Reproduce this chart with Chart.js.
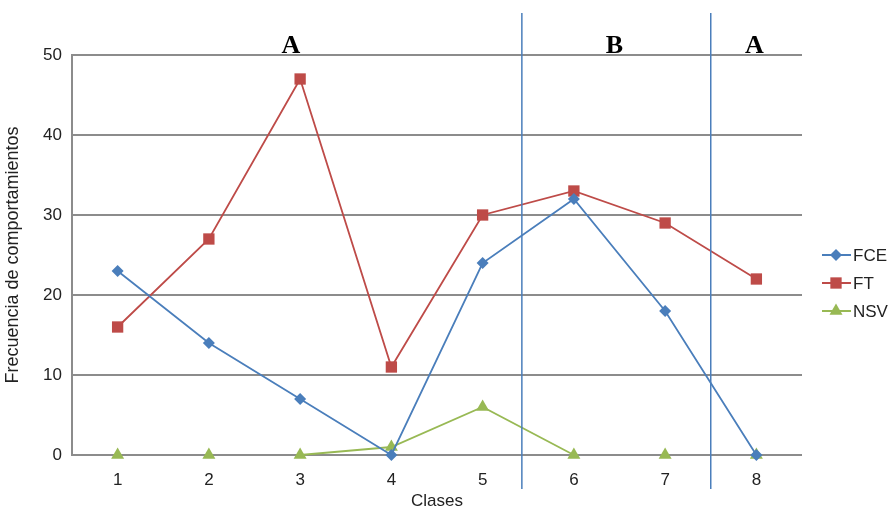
<!DOCTYPE html>
<html>
<head>
<meta charset="utf-8">
<script src="https://cdn.jsdelivr.net/npm/chart.js@4"></script>
<style>
  html, body { margin: 0; padding: 0; background: #fff; }
  #wrap { width: 891px; height: 512px; position: relative; }
</style>
</head>
<body>
<div id="wrap"><canvas id="chart"></canvas></div>
<script>
// Data
const clases = ["1", "2", "3", "4", "5", "6", "7", "8"];
const fce = [23, 14, 7, 0, 24, 32, 18, 0];
const ft = [16, 27, 47, 11, 30, 33, 29, 22];
const nsv = [0, 0, 0, 1, 6, 0, 0, 0];
const phases = ["A", "B", "A"];
// phase changes, in class units (between 5|6 and 7|8)
const phaseBreaks = [5.43, 7.5];

const colors = {
  blue: "#4a7ebb",
  red: "#be4b48",
  green: "#98b954",
  grid: "#8c8c8c",
  text: "#222222",
};

const tickFont = { family: "'Liberation Sans', Arial, sans-serif", size: 17 };

// hide segments lying flat on the zero axis (covered by the axis line)
const hideZeroRun = (ctx) =>
  ctx.p0.parsed.y === 0 && ctx.p1.parsed.y === 0 ? "rgba(0,0,0,0)" : undefined;

// Phase lines and labels
const phasePlugin = {
  id: "phases",
  afterDatasetsDraw(chart) {
    const { ctx, chartArea, scales } = chart;
    const xs = phaseBreaks.map((c) => {
      const lo = Math.floor(c);
      const f = c - lo;
      const a = scales.x.getPixelForValue(lo - 1);
      const b = scales.x.getPixelForValue(lo);
      return a + (b - a) * f;
    });
    ctx.save();
    ctx.strokeStyle = colors.blue;
    ctx.lineWidth = 1.5;
    xs.forEach((x) => {
      ctx.beginPath();
      ctx.moveTo(x, 13);
      ctx.lineTo(x, 489);
      ctx.stroke();
    });
    const edges = [chartArea.left - 8, ...xs, chartArea.right];
    ctx.fillStyle = "#000";
    ctx.font = "bold 26px 'Liberation Serif', 'Times New Roman', serif";
    ctx.textAlign = "center";
    ctx.textBaseline = "alphabetic";
    phases.forEach((p, i) => {
      ctx.fillText(p, (edges[i] + edges[i + 1]) / 2 - 2, 53);
    });
    ctx.restore();
  },
};

// Excel-style legend: line with marker
const legendPlugin = {
  id: "sideLegend",
  afterDraw(chart) {
    const { ctx } = chart;
    ctx.save();
    chart.data.datasets.forEach((ds, i) => {
      const y = 255 + i * 28;
      ctx.strokeStyle = ds.borderColor;
      ctx.lineWidth = 2;
      ctx.beginPath();
      ctx.moveTo(822, y);
      ctx.lineTo(851, y);
      ctx.stroke();
      ctx.fillStyle = ds.backgroundColor;
      Chart.helpers.drawPoint(ctx, { pointStyle: ds.pointStyle, radius: ds.pointRadius, rotation: 0, borderWidth: 0 }, 836, y);
      ctx.fillStyle = colors.text;
      ctx.font = "17px 'Liberation Sans', Arial, sans-serif";
      ctx.textAlign = "left";
      ctx.textBaseline = "middle";
      ctx.fillText(ds.label, 853, y + 1);
    });
    ctx.restore();
  },
};

function lineSet(label, data, color, style, radius) {
  return {
    label: label,
    data: data,
    borderColor: color,
    backgroundColor: color,
    borderWidth: 1.8,
    pointStyle: style,
    pointRadius: radius,
    pointBorderWidth: 0,
    pointHoverRadius: radius,
    tension: 0,
    clip: false,
    segment: { borderColor: hideZeroRun },
  };
}

new Chart(document.getElementById("chart"), {
  type: "line",
  data: {
    labels: clases,
    datasets: [
      lineSet("FCE", fce, colors.blue, "rectRot", 6),
      lineSet("FT", ft, colors.red, "rect", 8),
      lineSet("NSV", nsv, colors.green, "triangle", 7.5),
    ],
  },
  options: {
    responsive: true,
    maintainAspectRatio: false,
    animation: false,
    layout: { padding: { left: 0, right: 89, top: 55, bottom: 0 } },
    plugins: {
      legend: { display: false },
      tooltip: { enabled: false },
    },
    scales: {
      x: {
        offset: true,
        grid: { display: false, drawTicks: false },
        border: { display: false },
        ticks: { font: tickFont, color: colors.text, padding: 15 },
        title: {
          display: true,
          text: "Clases",
          font: tickFont,
          color: colors.text,
          padding: { top: 5, bottom: 0 },
        },
        afterFit(scale) {
          scale.height = 57;
        },
      },
      y: {
        min: 0,
        max: 50,
        ticks: { stepSize: 10, font: tickFont, color: colors.text, padding: 10 },
        grid: { color: colors.grid, lineWidth: 2, drawTicks: false },
        border: { color: colors.grid, width: 2 },
        title: {
          display: true,
          text: "Frecuencia de comportamientos",
          font: { family: "'Liberation Sans', Arial, sans-serif", size: 18 },
          color: colors.text,
          padding: { top: 2, bottom: 0 },
        },
        afterFit(scale) {
          scale.width = 72;
        },
      },
    },
  },
  plugins: [phasePlugin, legendPlugin],
});
</script>
</body>
</html>
